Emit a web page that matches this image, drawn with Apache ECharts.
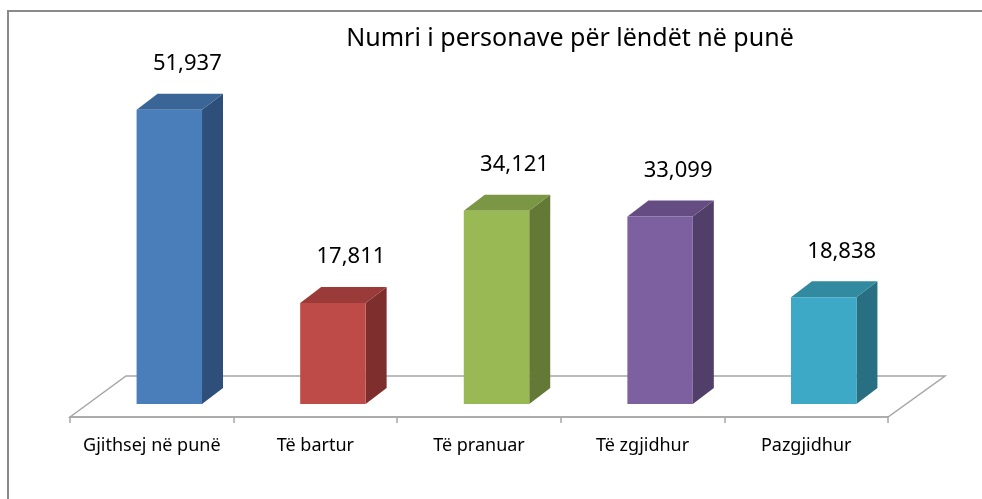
<!DOCTYPE html>
<html><head><meta charset="utf-8">
<script src="https://cdn.jsdelivr.net/npm/echarts@6/dist/echarts.min.js"></script>
<style>html,body{margin:0;padding:0;background:#fff}#c{width:982px;height:499px}</style>
</head><body><div id="c"></div>
<script>
const titleText = 'Numri i personave për lëndët në punë';
const categories = ['Gjithsej në punë', 'Të bartur', 'Të pranuar', 'Të zgjidhur', 'Pazgjidhur'];
const values = [51937, 17811, 34121, 33099, 18838];
const frontColors = ['#4A7EBB', '#BE4B48', '#98B954', '#7D60A0', '#3EA9C6'];
const sideColors  = ['#2D4F7A', '#7E2E2C', '#637935', '#523F69', '#276F81'];
const topColors   = ['#3A6597', '#9A3B39', '#7B9644', '#654D84', '#318AA0'];

const chart = echarts.init(document.getElementById('c'));
const FONT = '"Noto Sans", "DejaVu Sans", sans-serif';
const DX = 21, DY = -16;

chart.setOption({
  animation: false,
  backgroundColor: '#fff',
  title: {
    text: titleText, left: 565, top: 21, textAlign: 'center',
    textStyle: {fontFamily: FONT, fontSize: 25, fontWeight: 'normal', color: '#000'}
  },
  grid: [
    {left: 70, right: 94, top: 64, bottom: 95},
    {left: 70, right: 94, top: 417, height: 0}
  ],
  xAxis: [
    {type: 'category', data: categories, gridIndex: 0, show: false},
    {
      type: 'category', data: categories, gridIndex: 1,
      axisLine: {show: true, lineStyle: {color: '#a6a6a6', width: 1.5}},
      axisTick: {show: true, interval: 0, length: 6, lineStyle: {color: '#a6a6a6', width: 1.5}},
      axisLabel: {interval: 0, hideOverlap: false, margin: 20, fontFamily: FONT, fontSize: 18, color: '#000'},
      z: 1
    }
  ],
  yAxis: [
    {type: 'value', min: 0, max: 60000, interval: 10000, show: false, gridIndex: 0},
    {type: 'value', show: false, gridIndex: 1}
  ],
  graphic: [
    {type: 'rect', shape: {x: 8, y: 11, width: 1100, height: 700}, style: {fill: 'none', stroke: '#8a8a8a', lineWidth: 2}, z: 0},
    {type: 'polygon', shape: {points: [[70, 417], [126, 376], [945, 376], [888, 417]]},
     style: {fill: '#fff', stroke: '#a6a6a6', lineWidth: 1.5}, z: 0}
  ],
  series: [{
    type: 'custom',
    xAxisIndex: 0, yAxisIndex: 0,
    data: values.map((v, i) => [i, v]),
    z: 5,
    renderItem: function (params, api) {
      const i = api.value(0), v = api.value(1);
      const base = api.coord([i, 0]);
      const top = api.coord([i, v]);
      const band = api.size([1, 0])[0];
      const w = band * 0.4;
      const cx = base[0] + band * 0.107;
      const l = cx - w / 2, r = cx + w / 2;
      const b = base[1], t = top[1];
      return {
        type: 'group',
        children: [
          {type: 'polygon', shape: {points: [[r, b], [r + DX, b + DY], [r + DX, t + DY], [r, t]]}, style: {fill: sideColors[i]}},
          {type: 'polygon', shape: {points: [[l, t], [l + DX, t + DY], [r + DX, t + DY], [r, t]]}, style: {fill: topColors[i]}},
          {type: 'rect', shape: {x: l, y: t, width: w, height: b - t}, style: {fill: frontColors[i]}},
          {type: 'text', x: cx + 18, y: t - 46, style: {
            text: v.toLocaleString('en-US'), fill: '#000', fontFamily: FONT, fontSize: 22,
            align: 'center', verticalAlign: 'middle'}}
        ]
      };
    }
  }]
});
</script></body></html>
